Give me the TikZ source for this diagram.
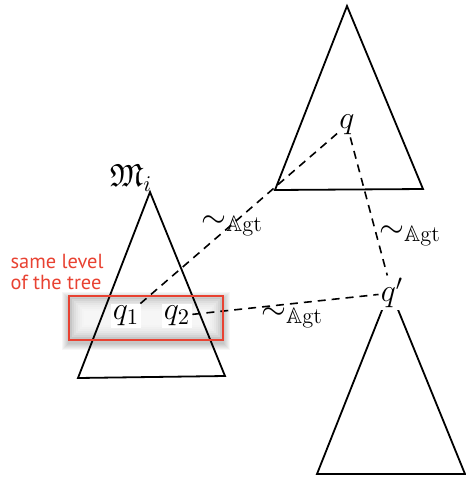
\RequirePackage{fix-cm}
\documentclass[tikz,border=0pt]{standalone}
\usepackage{amssymb}
\usepackage{fontspec}
\newfontfamily\notefont{PT Sans}
\definecolor{notered}{RGB}{232,66,50}
\begin{document}
\begin{tikzpicture}[x=0.5pt,y=-0.5pt,
  tri/.style={draw=black,line width=0.9pt,line join=miter},
  rel/.style={draw=black,line width=0.8pt,dash pattern=on 4pt off 3pt},
  st/.style={inner sep=1pt,fill=white,font=\fontsize{16}{19}\selectfont},
  lbl/.style={inner sep=0pt,font=\fontsize{16}{19}\selectfont},
  note/.style={align=left,text=notered,inner sep=0pt,font=\notefont\fontsize{10.2}{10.4}\selectfont}]
\useasboundingbox (0,0) rectangle (466,479);
% shadow of the box
\foreach \k in {1,...,7}{
  \fill[black,opacity=0.035] (69-\k,296-\k+3) rectangle (223+\k,340+\k+3);
}
\foreach \k in {3,5,...,15}{
  \fill[white,opacity=0.25] (69+\k,296+\k) rectangle (223-\k,340-\k);
}
% triangles
\draw[tri] (347,6) -- (275,190) -- (423,189) -- cycle;
\draw[tri] (150,192) -- (78,378) -- (225,376) -- cycle;
\draw[tri] (390,290) -- (317,474) -- (465,474) -- cycle;
% nodes
\node[lbl] (m) at (131,178) {$\mathfrak{M}_i$};
\node[st,fill=none] (q) at (347,125) {$q$};
\node[st] (q1) at (126,316) {$q_1$};
\node[st] (q2) at (177,316) {$q_2$};
\node[st] (qp) at (392,293) {$q'$};
% relations
\draw[rel] (q) -- (q1);
\draw[rel] (q) -- (qp);
\draw[rel] (q2) -- (qp);
\node[lbl] (l1) at (232,226) {$\sim_{\mathbb{A}\mathrm{gt}}$};
\node[lbl] (l2) at (410,236) {$\sim_{\mathbb{A}\mathrm{gt}}$};
\node[lbl] (l3) at (292,318) {$\sim_{\mathbb{A}\mathrm{gt}}$};
% box
\draw[notered,line width=0.8pt] (69,296) rectangle (223,340);
\node[note] (n) at (57,272) {same level\\of the tree};
\end{tikzpicture}
\end{document}
